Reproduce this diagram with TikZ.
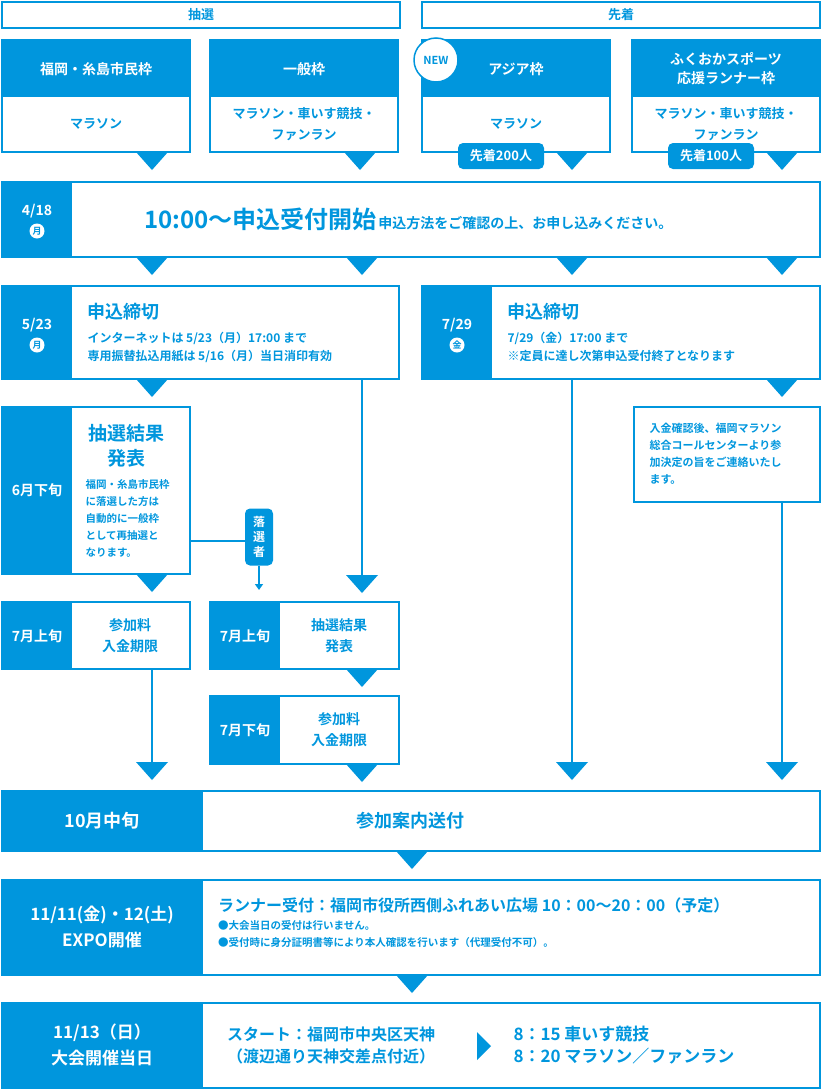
\documentclass[tikz,border=0pt]{standalone}
\usepackage{fontspec}
\setmainfont{Noto Sans CJK JP Bold}
\usepackage{tikz}
\usetikzlibrary{arrows.meta}
\definecolor{fb}{RGB}{0,150,221}
\newcommand\fs[2]{\fontsize{#1}{#2}\selectfont}
% triangle pointing down below a box
\newcommand\tri[2]{\fill[fb] (#1-16,#2) -- (#1+16,#2) -- (#1,#2+18) -- cycle;}
\begin{document}
\begin{tikzpicture}[x=1pt,y=-1pt,line cap=butt,line join=miter,
  blk/.style={draw=fb,line width=1.5pt},
  lab/.style={text=white,font=\fs{14}{19},align=center},
  txt/.style={text=fb,font=\fs{12}{18},align=center},
  wire/.style={draw=fb,line width=2pt}]
\useasboundingbox (0,0) rectangle (822,1090);
% headers
\draw[blk] (2,2) rectangle (400,28);
\draw[blk] (422,2) rectangle (820,28);
\node[txt,font=\fs{13}{16}] (hLot) at (201,15) {抽選};
\node[txt,font=\fs{13}{16}] (hFirst) at (621,15) {先着};
% categories
\foreach \x/\t/\s in {2/{福岡・糸島市民枠}/{マラソン},
                      210/{一般枠}/{マラソン・車いす競技・\\ファンラン},
                      422/{アジア枠}/{マラソン},
                      632/{ふくおかスポーツ\\応援ランナー枠}/{マラソン・車いす競技・\\ファンラン}}{
  \fill[fb] (\x,40) rectangle (\x+188,97);
  \draw[blk] (\x,40) rectangle (\x+188,152);
  \node[lab] at (\x+94,69) {\t};
  \node[txt,font=\fs{13}{21}] at (\x+94,124) {\s};
  \tri{\x+150}{152}
}
\draw[fb,fill=white,line width=1.5pt] (436,60) circle (22);
\node[text=fb,font=\fs{11}{13}] (new) at (436,60) {NEW};
\node[fill=fb,text=white,rounded corners=5pt,minimum width=86,minimum height=26,
  font=\fs{13}{14},inner sep=0] (cap200) at (501,156) {先着200人};
\node[fill=fb,text=white,rounded corners=5pt,minimum width=86,minimum height=26,
  font=\fs{13}{14},inner sep=0] (cap100) at (711,156) {先着100人};
% 4/18
\fill[fb] (2,182) rectangle (72,257);
\draw[blk] (2,182) rectangle (820,257);
\node[lab,font=\fs{14}{16}] (d418) at (37,211) {4/18};
\fill[white] (37,231) circle (7.5);
\node[text=fb,font=\fs{9}{10}] at (37,231) {月};
\node[text=fb,anchor=west,inner sep=0] (open) at (144,219)
  {{\fs{24}{28}10:00〜申込受付開始}\,{\fs{14}{16}申込方法をご確認の上、お申し込みください。}};
\foreach \x in {152,362,572,782}{\tri{\x}{257}}
% deadlines
\fill[fb] (2,286) rectangle (72,379);
\draw[blk] (2,286) rectangle (399,379);
\node[lab,font=\fs{14}{16}] (d523) at (37,325) {5/23};
\fill[white] (37,345) circle (7.5);
\node[text=fb,font=\fs{9}{10}] at (37,345) {月};
\node[text=fb,anchor=west,font=\fs{18}{20}] (close1) at (84,312) {申込締切};
\node[txt,anchor=north west,align=left,font=\fs{12}{18}] at (84,329)
  {インターネットは 5/23（月）17:00 まで\\専用振替払込用紙は 5/16（月）当日消印有効};
\fill[fb] (422,286) rectangle (492,379);
\draw[blk] (422,286) rectangle (820,379);
\node[lab,font=\fs{14}{16}] (d729) at (457,325) {7/29};
\fill[white] (457,345) circle (7.5);
\node[text=fb,font=\fs{9}{10}] at (457,345) {金};
\node[text=fb,anchor=west,font=\fs{18}{20}] (close2) at (504,312) {申込締切};
\node[txt,anchor=north west,align=left,font=\fs{12}{18}] at (504,329)
  {7/29（金）17:00 まで\\※定員に達し次第申込受付終了となります};
\tri{152}{379}
\tri{782}{379}
% note
\draw[blk] (634,407) rectangle (820,502);
\node[txt,anchor=north west,align=left,font=\fs{11}{17}] (note) at (646,420)
  {入金確認後、福岡マラソン\\総合コールセンターより参\\加決定の旨をご連絡いたし\\ます。};
% 6月下旬
\fill[fb] (2,407) rectangle (72,574);
\draw[blk] (2,407) rectangle (190,574);
\node[lab] (jun) at (37,490) {6月下旬};
\node[text=fb,font=\fs{19}{25},align=center] (res1) at (126,446) {抽選結果\\発表};
\node[txt,anchor=north west,align=left,font=\fs{10.5}{17}] at (82,476)
  {福岡・糸島市民枠\\に落選した方は\\自動的に一般枠\\として再抽選と\\なります。};
\tri{152}{574}
\node[fill=fb,text=white,rounded corners=5pt,minimum width=28,minimum height=57,
  inner sep=0,font=\fs{12}{15},align=center] (lose) at (259,537) {落\\選\\者};
\coordinate (jr) at (190,541);
\draw[wire] (jr) -- (jr -| lose.west);
\coordinate (lz) at (259,590);
\draw[fb,line width=1.5pt,-{Triangle[length=6pt,width=8pt]}] (lose.south) -- (lz);
% 7月
\fill[fb] (2,602) rectangle (72,669);
\draw[blk] (2,602) rectangle (190,669);
\node[lab] (jul1) at (37,636) {7月上旬};
\node[txt,font=\fs{14}{21}] (pay1) at (130,636) {参加料\\入金期限};
\fill[fb] (210,602) rectangle (280,669);
\draw[blk] (210,602) rectangle (399,669);
\node[lab] (jul2) at (245,636) {7月上旬};
\node[txt,font=\fs{14}{21}] (res2) at (339,636) {抽選結果\\発表};
\tri{362}{669}
\fill[fb] (210,696) rectangle (280,764);
\draw[blk] (210,696) rectangle (399,764);
\node[lab] (jul3) at (245,730) {7月下旬};
\node[txt,font=\fs{14}{21}] (pay2) at (339,730) {参加料\\入金期限};
\tri{362}{764}
% long lines
\coordinate (a1) at (152,669); \coordinate (a1e) at (152,764);
\coordinate (a2) at (362,379); \coordinate (a2e) at (362,577);
\coordinate (a3) at (572,379); \coordinate (a3e) at (572,764);
\coordinate (a4) at (782,502); \coordinate (a4e) at (782,764);
\foreach \p in {a1,a2,a3,a4}{\draw[wire] (\p) -- (\p e);}
\tri{152}{762}
\tri{362}{575}
\tri{572}{762}
\tri{782}{762}
% bottom rows
\fill[fb] (2,791) rectangle (203,851);
\draw[blk] (2,791) rectangle (820,851);
\node[lab,font=\fs{18}{20}] (oct) at (102,821) {10月中旬};
\node[txt,font=\fs{18}{20}] (send) at (410,821) {参加案内送付};
\tri{412}{851}
\fill[fb] (2,880) rectangle (203,975);
\draw[blk] (2,880) rectangle (820,975);
\node[lab,font=\fs{17}{26}] (expo) at (102,927) {11/11(金)・12(土)\\EXPO開催};
\node[txt,anchor=north west,align=left,font=\fs{16}{19},inner sep=0] (rec) at (218,898)
  {ランナー受付：福岡市役所西側ふれあい広場 10：00〜20：00（予定）};
\node[txt,anchor=north west,align=left,font=\fs{10.5}{17},inner sep=0] at (218,920)
  {●大会当日の受付は行いません。\\●受付時に身分証明書等により本人確認を行います（代理受付不可）。};
\tri{412}{975}
\fill[fb] (2,1003) rectangle (203,1088);
\draw[blk] (2,1003) rectangle (820,1088);
\node[lab,font=\fs{17}{26}] (race) at (102,1045) {11/13（日）\\大会開催当日};
\node[txt,font=\fs{16}{22}] (start) at (331,1045) {スタート：福岡市中央区天神\\（渡辺通り天神交差点付近）};
\fill[fb] (477,1032) -- (491,1046) -- (477,1060) -- cycle;
\node[txt,anchor=west,align=left,font=\fs{17}{22}] (time) at (510,1045) {8：15 車いす競技\\8：20 マラソン／ファンラン};
\end{tikzpicture}
\end{document}
